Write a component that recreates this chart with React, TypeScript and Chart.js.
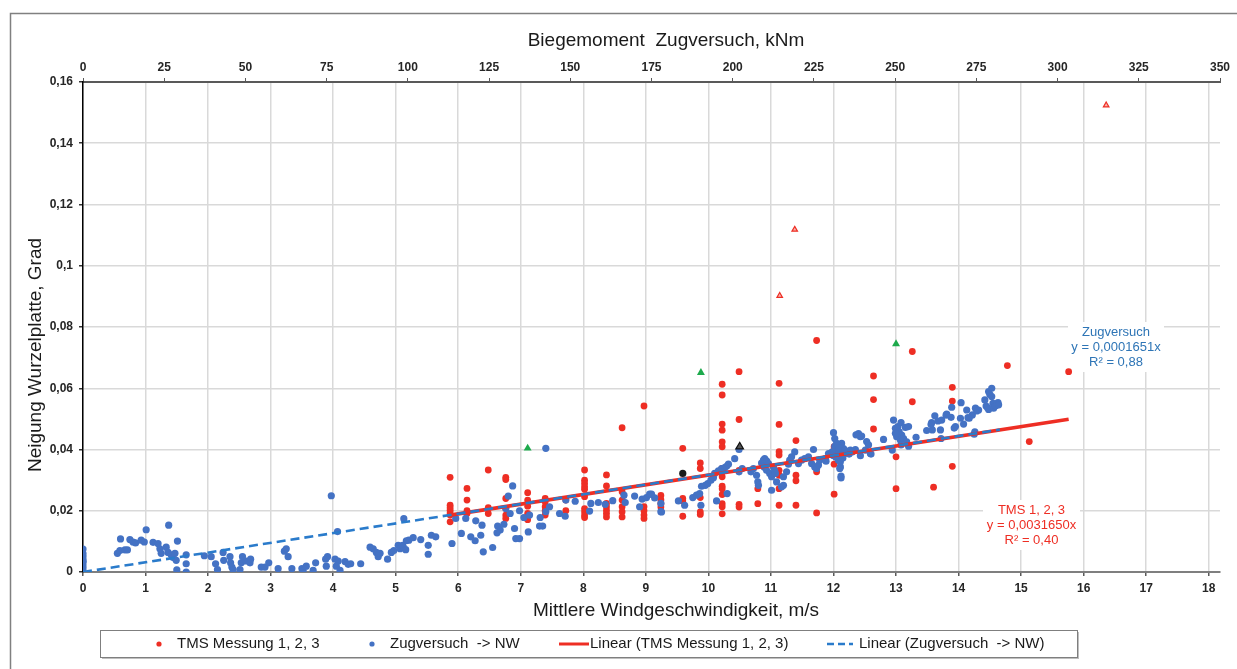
import React, { useEffect, useRef } from 'react';
import { Chart, registerables } from 'chart.js';

Chart.register(...registerables);

const FONT = '"Liberation Sans", Arial, sans-serif';
const RED = '#EE2E24';
const BLUE = '#4472C4';
const BLUE_TREND = '#2A7BCB';
const GREEN = '#1DAA4C';

// axis ticks
const windTicks = [0, 1, 2, 3, 4, 5, 6, 7, 8, 9, 10, 11, 12, 13, 14, 15, 16, 17, 18];
const momentTicks = [0, 25, 50, 75, 100, 125, 150, 175, 200, 225, 250, 275, 300, 325, 350];
const tiltTicks = [0, 0.02, 0.04, 0.06, 0.08, 0.1, 0.12, 0.14, 0.16];

// titles / labels
const xTitle = 'Mittlere Windgeschwindigkeit, m/s';
const x2Title = 'Biegemoment  Zugversuch, kNm';
const yTitle = 'Neigung Wurzelplatte, Grad';
const legendLabels = ['TMS Messung 1, 2, 3', 'Zugversuch  -> NW', 'Linear (TMS Messung 1, 2, 3)', 'Linear (Zugversuch  -> NW)'];
const zugAnnotation = ['Zugversuch', 'y = 0,0001651x', 'R² = 0,88'];
const tmsAnnotation = ['TMS 1, 2, 3', 'y = 0,0031650x', 'R² = 0,40'];

// TMS measurements (wind m/s, tilt deg)
const tmsPoints: [number, number][] = [
  [5.87, 0.0309], [5.87, 0.0218], [5.87, 0.021], [5.87, 0.0202], [5.87, 0.0193], [5.87, 0.0186], [5.87, 0.0164],
  [6.14, 0.0273], [6.14, 0.0235], [6.14, 0.02], [6.14, 0.0191],
  [6.48, 0.0333], [6.48, 0.021], [6.48, 0.0191],
  [6.76, 0.0309], [6.76, 0.0302], [6.76, 0.024], [6.76, 0.0207], [6.76, 0.0186], [6.76, 0.0175],
  [7.11, 0.0259], [7.11, 0.0235], [7.11, 0.0215], [7.11, 0.0191], [7.11, 0.0171],
  [7.39, 0.024], [7.39, 0.0229], [7.39, 0.0213], [7.39, 0.02], [7.39, 0.0186],
  [7.72, 0.0235], [7.72, 0.02],
  [8.02, 0.0333], [8.02, 0.03], [8.02, 0.0289], [8.02, 0.0278], [8.02, 0.027], [8.02, 0.0246], [8.02, 0.0207], [8.02, 0.0197], [8.02, 0.0186], [8.02, 0.0178],
  [8.37, 0.0317], [8.37, 0.0281], [8.37, 0.0224], [8.37, 0.0213], [8.37, 0.0202], [8.37, 0.0191], [8.37, 0.018],
  [8.62, 0.0471], [8.62, 0.0262], [8.62, 0.0235], [8.62, 0.0213], [8.62, 0.0197], [8.62, 0.018],
  [8.97, 0.0542], [8.97, 0.0213], [8.97, 0.02], [8.97, 0.0186], [8.97, 0.0175],
  [9.24, 0.025], [9.24, 0.0236], [9.24, 0.0223], [9.24, 0.0212],
  [9.59, 0.0404], [9.59, 0.024], [9.59, 0.0232], [9.59, 0.0182],
  [9.87, 0.0356], [9.87, 0.0338], [9.87, 0.0243], [9.87, 0.0196], [9.87, 0.0188],
  [10.22, 0.0613], [10.22, 0.0578], [10.22, 0.0483], [10.22, 0.0463], [10.22, 0.0425], [10.22, 0.0409], [10.22, 0.0338], [10.22, 0.0311],
  [10.22, 0.028], [10.22, 0.0272], [10.22, 0.0253], [10.22, 0.0223], [10.22, 0.0213], [10.22, 0.019],
  [10.49, 0.0654], [10.49, 0.0498], [10.49, 0.0332], [10.49, 0.0221], [10.49, 0.0212],
  [10.79, 0.0272], [10.79, 0.0223],
  [11.13, 0.0616], [11.13, 0.0482], [11.13, 0.0393], [11.13, 0.0382], [11.13, 0.0332], [11.13, 0.0316], [11.13, 0.0272], [11.13, 0.0218],
  [11.4, 0.0429], [11.4, 0.0316], [11.4, 0.0298], [11.4, 0.0218],
  [11.73, 0.0756], [11.73, 0.0327], [11.73, 0.0193],
  [12.01, 0.0409], [12.01, 0.0352], [12.01, 0.0254],
  [12.64, 0.064], [12.64, 0.0563], [12.64, 0.0467],
  [13.0, 0.0376], [13.0, 0.0272],
  [13.26, 0.072], [13.26, 0.0556],
  [13.6, 0.0277],
  [13.9, 0.0603], [13.9, 0.0558], [13.9, 0.0345],
  [14.78, 0.0674],
  [15.13, 0.0426],
  [15.76, 0.0654],
];

// Zugversuch -> NW (wind m/s, tilt deg)
const zugPoints: [number, number][] = [
  [0, 0], [0, 0.001], [0, 0.002], [0, 0.003], [0, 0.0035], [0, 0.004], [0, 0.005], [0, 0.006], [0, 0.0075],
  [0.55, 0.0061], [0.6, 0.0108], [0.59, 0.007], [0.67, 0.0072], [0.71, 0.0072], [0.75, 0.0106], [0.8, 0.0098], [0.84, 0.0095],
  [0.93, 0.0104], [0.98, 0.0098], [1.01, 0.0138], [1.12, 0.0097], [1.2, 0.0093], [1.23, 0.0076], [1.25, 0.0061], [1.33, 0.0081],
  [1.37, 0.0153], [1.36, 0.0064], [1.41, 0.0056], [1.44, 0.0047], [1.47, 0.0061], [1.51, 0.0101], [1.49, 0.0038], [1.5, 0.0007],
  [1.65, 0.0056], [1.65, 0.0027], [1.65, 0.0], [1.94, 0.0053], [2.05, 0.005], [2.12, 0.0027], [2.15, 0.0008], [2.24, 0.0064],
  [2.25, 0.0038], [2.35, 0.005], [2.36, 0.003], [2.38, 0.0016], [2.4, 0.0008], [2.51, 0.0008], [2.53, 0.003], [2.55, 0.005],
  [2.61, 0.0036], [2.67, 0.003], [2.68, 0.0042], [2.85, 0.0016], [2.91, 0.0016], [2.97, 0.003], [3.12, 0.0011], [3.22, 0.0068],
  [3.25, 0.0076], [3.28, 0.005], [3.34, 0.0011], [3.5, 0.0011], [3.52, 0.0005], [3.57, 0.0019], [3.68, 0.0005], [3.72, 0.003],
  [3.88, 0.0042], [3.91, 0.005], [3.89, 0.0019], [3.97, 0.0249], [4.03, 0.0042], [4.08, 0.0036], [4.07, 0.0132], [4.05, 0.0019],
  [4.11, 0.0005], [4.19, 0.0034], [4.24, 0.0025], [4.28, 0.0027], [4.44, 0.0027], [4.59, 0.0081], [4.64, 0.0076], [4.69, 0.0064],
  [4.72, 0.005], [4.75, 0.0061], [4.87, 0.0042], [4.93, 0.0064], [4.97, 0.007], [5.04, 0.0087], [5.07, 0.0076], [5.12, 0.0081],
  [5.13, 0.0174], [5.17, 0.0102],
  [5.11, 0.0087], [5.16, 0.0073], [5.21, 0.0104], [5.28, 0.0112], [5.4, 0.0106], [5.52, 0.0087], [5.52, 0.0058], [5.57, 0.012],
  [5.64, 0.0115], [5.9, 0.0093], [5.96, 0.0175], [6.05, 0.0126], [6.12, 0.0175], [6.2, 0.0115], [6.27, 0.0102], [6.28, 0.0167],
  [6.36, 0.012], [6.38, 0.0153], [6.4, 0.0066], [6.55, 0.008], [6.63, 0.015], [6.62, 0.0128], [6.67, 0.0137], [6.73, 0.0156],
  [6.76, 0.0207], [6.8, 0.0248], [6.87, 0.0281], [6.83, 0.0191], [6.9, 0.0142], [6.92, 0.0109], [6.98, 0.0109], [6.98, 0.02],
  [7.05, 0.0178], [7.12, 0.0131], [7.14, 0.0186], [7.3, 0.015], [7.31, 0.0178], [7.35, 0.015], [7.4, 0.0197], [7.46, 0.0213],
  [7.4, 0.0404], [7.62, 0.0191], [7.71, 0.0182], [7.72, 0.0235], [7.87, 0.0231], [8.1, 0.0199], [8.12, 0.0224], [8.24, 0.0227],
  [8.35, 0.0221], [8.47, 0.0233], [8.65, 0.0251], [8.67, 0.0227], [8.82, 0.0248], [8.9, 0.0213], [8.94, 0.0238], [9.01, 0.0243],
  [9.06, 0.0254], [9.14, 0.0242], [9.24, 0.0197], [9.24, 0.0224],
  [9.09, 0.0254], [9.25, 0.0196], [9.52, 0.0232], [9.62, 0.0218], [9.75, 0.0243], [9.81, 0.0251], [9.86, 0.0256], [9.88, 0.0218],
  [9.89, 0.028], [9.95, 0.0283], [9.99, 0.0289], [10.04, 0.03], [10.08, 0.0308], [10.1, 0.0322], [10.13, 0.0232], [10.16, 0.033],
  [10.21, 0.0338], [10.26, 0.0341], [10.29, 0.0345], [10.32, 0.0352], [10.3, 0.0256], [10.42, 0.037], [10.49, 0.04], [10.54, 0.0338],
  [10.49, 0.0327], [10.68, 0.0327], [10.72, 0.0338], [10.77, 0.0316], [10.79, 0.0294], [10.8, 0.0283], [10.85, 0.0356], [10.88, 0.0365],
  [10.9, 0.037], [10.93, 0.0363], [10.96, 0.0354], [10.89, 0.0343], [10.93, 0.0332], [10.98, 0.0322], [11.01, 0.0311], [11.01, 0.0267],
  [11.04, 0.0343], [11.06, 0.033], [11.09, 0.0294], [11.07, 0.0322], [11.17, 0.0278], [11.2, 0.0283], [11.2, 0.0311], [11.25, 0.0327],
  [11.28, 0.0352], [11.3, 0.0365], [11.33, 0.0376], [11.38, 0.0392], [11.44, 0.0354], [11.49, 0.0365], [11.54, 0.037], [11.6, 0.0376],
  [11.65, 0.0354], [11.68, 0.04], [11.7, 0.0343], [11.73, 0.0338], [11.76, 0.0349], [11.78, 0.0365], [11.87, 0.037], [11.92, 0.0387],
  [12.0, 0.0455], [12.02, 0.0436], [12.05, 0.042], [12.08, 0.0409], [12.11, 0.0398], [12.13, 0.042], [12.16, 0.0403], [12.08, 0.0387],
  [12.11, 0.0343], [12.12, 0.0313], [12.19, 0.0387], [12.27, 0.0398], [12.35, 0.04], [12.4, 0.0452], [12.43, 0.0442], [12.51, 0.0398],
  [12.59, 0.0387], [12.02, 0.041], [12.05, 0.0395], [12.07, 0.0385], [12.1, 0.0378], [12.04, 0.0375], [12.12, 0.0392], [12.14, 0.0383],
  [12.06, 0.0418], [12.09, 0.0405], [12.18, 0.0398], [12.22, 0.039], [12.25, 0.0385], [12.3, 0.0392], [11.98, 0.0392], [12.0, 0.038],
  [12.08, 0.0365], [12.11, 0.036], [12.15, 0.0372], [12.12, 0.0307], [12.1, 0.0338], [11.88, 0.0362], [12.36, 0.0448], [12.43, 0.038],
  [12.45, 0.0444], [12.53, 0.0426], [12.56, 0.0415], [12.6, 0.0385], [12.8, 0.0433], [12.96, 0.0496], [12.94, 0.0398],
  [12.99, 0.0469], [13.03, 0.0475], [13.08, 0.0488], [13.05, 0.0458], [13.09, 0.0447], [13.01, 0.0442], [13.07, 0.0431], [13.12, 0.0436],
  [13.17, 0.0425], [13.2, 0.0411], [13.15, 0.0472], [13.2, 0.0475], [13.32, 0.044], [13.08, 0.0415], [12.99, 0.0453],
  [13.49, 0.0462], [13.57, 0.0488], [13.58, 0.0464], [13.62, 0.051], [13.71, 0.0464], [13.73, 0.0496], [13.72, 0.0436],
  [13.81, 0.0516], [13.88, 0.0505], [13.89, 0.0538], [13.95, 0.0475], [14.04, 0.0553], [14.03, 0.0502], [14.13, 0.0529],
  [14.17, 0.0502], [14.22, 0.0513], [14.27, 0.0535], [14.32, 0.0529], [14.26, 0.0458], [14.42, 0.0562], [14.44, 0.0542],
  [14.48, 0.0589], [14.53, 0.06], [14.55, 0.0551], [14.56, 0.0535], [14.63, 0.0553], [14.53, 0.0573], [14.59, 0.0542], [14.48, 0.0531],
  [13.56, 0.0482], [13.67, 0.0493], [13.8, 0.0512], [13.93, 0.047], [14.08, 0.0483], [14.15, 0.0504], [14.25, 0.045], [14.29, 0.0526],
  [14.46, 0.0537], [14.5, 0.058], [14.61, 0.0548], [14.64, 0.0546],
];

// extra markers
const tmsOutliers: [number, number][] = [[16.36, 0.1524], [11.38, 0.1118], [11.14, 0.0902]];
const greenMarks: [number, number][] = [[7.11, 0.0404], [9.88, 0.0651], [13.0, 0.0745]];
const blackDot: [number, number][] = [[9.59, 0.0322]];
const blackTriangle: [number, number][] = [[10.5, 0.0409]];

// trend lines (endpoints)
const tmsTrend: [number, number][] = [[5.87, 0.01858], [15.76, 0.04988]];
const zugTrend: [number, number][] = [[0, 0], [14.66, 0.04649]];

const toXY = (arr: [number, number][]) => arr.map(([x, y]) => ({ x, y }));

const fmtTilt = (v: number) => String(+v.toFixed(2)).replace('.', ',');

// annotation boxes: [x, y, w, h]
const zugBox = [1068, 322, 96, 50];
const tmsBox = [983, 500, 97, 50];

const overlayPlugin = {
  id: 'overlay',
  beforeDraw(chart: any) {
    const ctx = chart.ctx;
    ctx.save();
    ctx.fillStyle = '#ffffff';
    ctx.fillRect(0, 0, chart.width, chart.height);
    ctx.strokeStyle = '#808080';
    ctx.lineWidth = 1.5;
    ctx.strokeRect(10.5, 13.5, 1240, 700);
    ctx.restore();
  },
  beforeDatasetsDraw(chart: any) {
    const ctx = chart.ctx;
    ctx.save();
    ctx.fillStyle = '#ffffff';
    ctx.fillRect(zugBox[0], zugBox[1], zugBox[2], zugBox[3]);
    ctx.fillRect(tmsBox[0], tmsBox[1], tmsBox[2], tmsBox[3]);
    ctx.restore();
  },
  afterDraw(chart: any) {
    const ctx = chart.ctx;
    ctx.save();
    ctx.fillStyle = '#1a1a1a';
    ctx.font = `19px ${FONT}`;
    ctx.textAlign = 'center';
    ctx.textBaseline = 'alphabetic';
    ctx.fillText(x2Title, 666, 46);
    ctx.fillText(xTitle, 676, 616);
    ctx.save();
    ctx.translate(41, 355);
    ctx.rotate(-Math.PI / 2);
    ctx.fillText(yTitle, 0, 0);
    ctx.restore();

    // annotation texts
    const drawText = (lines: string[], color: string, box: number[], cy: number) => {
      ctx.fillStyle = color;
      ctx.font = `13px ${FONT}`;
      ctx.textAlign = 'center';
      ctx.textBaseline = 'middle';
      lines.forEach((t, i) => ctx.fillText(t, box[0] + box[2] / 2, cy + i * 15));
    };
    drawText(zugAnnotation, '#2E75B6', zugBox, 332);
    drawText(tmsAnnotation, RED, tmsBox, 510.5);

    // legend
    const lx = 100, ly = 630, lw = 977, lh = 27;
    ctx.fillStyle = '#bfbfbf';
    ctx.fillRect(lx + 2, ly + 2, lw, lh);
    ctx.fillStyle = '#ffffff';
    ctx.fillRect(lx, ly, lw, lh);
    ctx.strokeStyle = '#7f7f7f';
    ctx.lineWidth = 1;
    ctx.strokeRect(lx + 0.5, ly + 0.5, lw, lh);
    const cy = ly + lh / 2 + 0.5;
    ctx.font = `15px ${FONT}`;
    ctx.textAlign = 'left';
    ctx.textBaseline = 'middle';
    ctx.fillStyle = RED;
    ctx.beginPath(); ctx.arc(159, cy, 2.6, 0, Math.PI * 2); ctx.fill();
    ctx.fillStyle = BLUE;
    ctx.beginPath(); ctx.arc(372, cy, 2.6, 0, Math.PI * 2); ctx.fill();
    ctx.strokeStyle = RED; ctx.lineWidth = 3;
    ctx.beginPath(); ctx.moveTo(559, cy); ctx.lineTo(589, cy); ctx.stroke();
    ctx.strokeStyle = BLUE_TREND; ctx.lineWidth = 2.5;
    ctx.setLineDash([7, 4]);
    ctx.beginPath(); ctx.moveTo(827, cy); ctx.lineTo(853, cy); ctx.stroke();
    ctx.setLineDash([]);
    ctx.fillStyle = '#1a1a1a';
    ctx.fillText(legendLabels[0], 177, cy);
    ctx.fillText(legendLabels[1], 390, cy);
    ctx.fillText(legendLabels[2], 590, cy);
    ctx.fillText(legendLabels[3], 859, cy);
    ctx.restore();
  },
};

export default function App() {
  const ref = useRef<HTMLCanvasElement | null>(null);
  useEffect(() => {
    if (!ref.current) return;
    const tickFont = { family: FONT, size: 12, weight: 'bold' as const };
    const chart = new Chart(ref.current, {
      type: 'scatter',
      data: {
        datasets: [
          { label: 'outliers', data: toXY(tmsOutliers), pointStyle: 'triangle', pointRadius: 3.2, backgroundColor: '#F8B4AE', borderColor: RED, borderWidth: 1.2, order: 1 } as any,
          { label: 'green', data: toXY(greenMarks), pointStyle: 'triangle', pointRadius: 4.6, backgroundColor: GREEN, borderColor: GREEN, borderWidth: 0, order: 1 } as any,
          { label: 'blackdot', data: toXY(blackDot), pointStyle: 'circle', pointRadius: 3.6, backgroundColor: '#1a1a1a', borderWidth: 0, order: 1 } as any,
          { label: 'blacktri', data: toXY(blackTriangle), pointStyle: 'triangle', pointRadius: 4.4, backgroundColor: '#555555', borderColor: '#111111', borderWidth: 1.2, order: 1 } as any,
          { label: legendLabels[3], data: toXY(zugTrend), showLine: true, pointRadius: 0, borderColor: BLUE_TREND, borderWidth: 2.6, borderDash: [9, 5], order: 3 } as any,
          { label: legendLabels[2], data: toXY(tmsTrend), showLine: true, pointRadius: 0, borderColor: RED, borderWidth: 3.6, order: 4 } as any,
          { label: legendLabels[1], data: toXY(zugPoints), pointRadius: 3.6, backgroundColor: BLUE, borderWidth: 0, order: 5 } as any,
          { label: legendLabels[0], data: toXY(tmsPoints), pointRadius: 3.4, backgroundColor: RED, borderWidth: 0, order: 6 } as any,
        ],
      },
      options: {
        animation: false,
        responsive: false,
        maintainAspectRatio: false,
        layout: { padding: { left: 0, right: 17, top: 0, bottom: 49 } },
        plugins: { legend: { display: false }, tooltip: { enabled: false } },
        scales: {
          x: {
            type: 'linear', position: 'bottom', min: 0, max: 18.18,
            afterBuildTicks: (s: any) => { s.ticks = windTicks.map((v) => ({ value: v })); },
            afterFit: (s: any) => { s.height = 48; },
            ticks: { font: tickFont, color: '#262626', padding: 5, maxRotation: 0, autoSkip: false, callback: (v: any) => String(v) },
            grid: { color: '#D9D9D9', lineWidth: 1.5, tickColor: '#595959', tickLength: 4 },
            border: { color: '#7F7F7F', width: 2 },
          },
          x2: {
            type: 'linear', position: 'top', min: 0, max: 350,
            afterBuildTicks: (s: any) => { s.ticks = momentTicks.map((v) => ({ value: v })); },
            afterFit: (s: any) => { s.height = 82; },
            ticks: { font: tickFont, color: '#262626', padding: 3, maxRotation: 0, autoSkip: false, callback: (v: any) => String(v) },
            grid: { drawOnChartArea: false, tickColor: '#595959', tickLength: 4 },
            border: { color: '#595959', width: 2 },
          },
          y: {
            type: 'linear', min: 0, max: 0.16,
            afterBuildTicks: (s: any) => { s.ticks = tiltTicks.map((v) => ({ value: v })); },
            afterFit: (s: any) => { s.width = 83; },
            ticks: { font: tickFont, color: '#262626', padding: 6, autoSkip: false, callback: (v: any) => fmtTilt(Number(v)) },
            grid: { color: '#D9D9D9', lineWidth: 1.5, tickColor: '#333333', tickLength: 4 },
            border: { color: '#000000', width: 1.5 },
          },
        },
      } as any,
      plugins: [overlayPlugin],
    });
    return () => chart.destroy();
  }, []);
  return (
    <div style={{ position: 'absolute', left: 0, top: 0, width: 1237, height: 669, overflow: 'hidden', background: '#fff' }}>
      <canvas ref={ref} width={1237} height={669} style={{ width: 1237, height: 669, display: 'block' }} />
    </div>
  );
}
